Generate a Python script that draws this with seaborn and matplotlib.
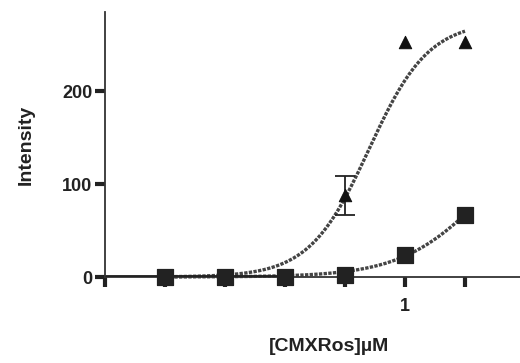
import numpy as np
import pandas as pd
import matplotlib
matplotlib.use("Agg")
import matplotlib.pyplot as plt
import seaborn as sns

# ---- data ----
conc = [0.0625, 0.125, 0.25, 0.5, 1.0, 2.0]          # µM
tri_vals = [0, 0, 0, 88, 253, 253]
tri_err = [0, 0, 0, 21, 0, 0]
sq_vals = [0, 0, 0, 2, 24, 67]
# fitted Hill curve parameters (top, EC50, slope)
tri_fit = (275.0, 0.66, 2.9)
sq_fit = (170.0, 2.45, 2.1)
y_ticks = [0, 100, 200]
x_tick_pos = [2.0 ** k for k in range(-5, 2)]
x_tick_labels = ["", "", "", "", "", "1", ""]

sns.set_theme(style="ticks")
plt.rcParams["font.family"] = ["Liberation Sans", "DejaVu Sans"]
plt.rcParams["font.weight"] = "bold"

fig = plt.figure(figsize=(5.2, 3.63), dpi=100)
ax = fig.add_axes([105 / 520, 1 - 277 / 363, 1 - 105 / 520, (277 - 12) / 363])

def hill(x, p):
    top, ec50, n = p
    return top * x ** n / (ec50 ** n + x ** n)

xs = np.logspace(np.log10(0.0625), np.log10(2.0), 200)
curves = pd.DataFrame({
    "x": np.concatenate([xs, xs]),
    "y": np.concatenate([hill(xs, tri_fit), hill(xs, sq_fit)]),
    "s": ["tri"] * len(xs) + ["sq"] * len(xs),
})
sns.lineplot(data=curves, x="x", y="y", hue="s", palette={"tri": "#444444", "sq": "#444444"},
             linewidth=2.4, linestyle=(0, (1, 0.4)), legend=False, ax=ax, clip_on=False,
             estimator=None, sort=False)
ax.plot([0.03125, 0.25], [0, 0], color="#222222", lw=3.5, solid_capstyle="butt", zorder=3)

tri_df = pd.DataFrame({"x": conc, "y": tri_vals})
sq_df = pd.DataFrame({"x": conc, "y": sq_vals})
sns.scatterplot(data=tri_df, x="x", y="y", marker="^", color="#111111", s=80,
                edgecolor="#111111", legend=False, ax=ax, clip_on=False, zorder=5)
sns.scatterplot(data=sq_df, x="x", y="y", marker="s", color="#222222", s=120,
                edgecolor="#222222", legend=False, ax=ax, clip_on=False, zorder=6)
eb = [(c, v, e) for c, v, e in zip(conc, tri_vals, tri_err) if e > 0]
ax.errorbar([b[0] for b in eb], [b[1] for b in eb], yerr=[b[2] for b in eb], fmt="none",
            ecolor="#222222", elinewidth=1.3, capsize=7, capthick=1.3, zorder=4)

ax.set_xscale("log", base=2)
ax.set_xlim(2.0 ** -5, 2.0 ** (-5 + 415 / 60))
ax.set_ylim(0, 285)
ax.set_xticks(x_tick_pos)
ax.set_xticklabels(x_tick_labels)
ax.xaxis.set_minor_locator(matplotlib.ticker.NullLocator())
ax.set_yticks(y_ticks)
ax.set_yticklabels([str(v) for v in y_ticks])
ax.tick_params(axis="both", direction="out", length=7, width=3, color="#222222",
               labelsize=13, labelcolor="#222222", pad=2)
ax.tick_params(axis="x", pad=8)
for sp in ["top", "right"]:
    ax.spines[sp].set_visible(False)
for sp in ["left", "bottom"]:
    ax.spines[sp].set_linewidth(1.3)
    ax.spines[sp].set_color("#333333")

ax.set_ylabel("Intensity", fontsize=14, fontweight="bold", color="#222222")
ax.yaxis.set_label_coords(-0.17, 0.5)
ax.set_xlabel("[CMXRos]µM", fontsize=14, fontweight="bold", color="#222222")
ax.xaxis.set_label_coords(0.54, -0.23)

fig.savefig("out.png", dpi=100)
